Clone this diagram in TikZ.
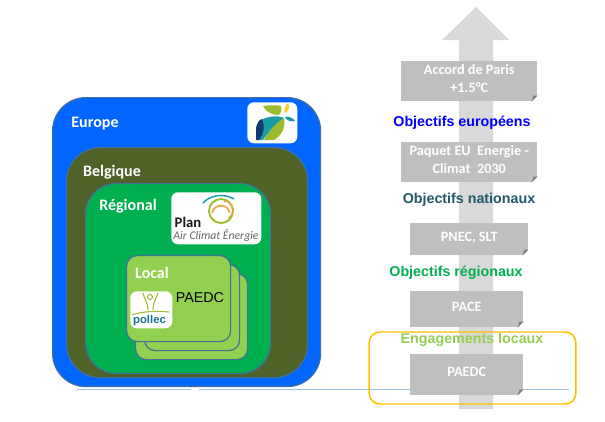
\documentclass[tikz,border=0pt]{standalone}
\usepackage{fontspec}
\setmainfont{Carlito}
\newfontfamily\arialfont{Liberation Sans}
\usepackage{tikz}
\usetikzlibrary{positioning}
\definecolor{euroblue}{HTML}{0066FF}
\definecolor{belgegreen}{HTML}{4F6228}
\definecolor{regiongreen}{HTML}{00B050}
\definecolor{localgreen}{HTML}{92D050}
\definecolor{frameblue}{HTML}{41719C}
\definecolor{shaftgrey}{HTML}{D9D9D9}
\definecolor{notegrey}{HTML}{BFBFBF}
\definecolor{foldgrey}{HTML}{7F7F7F}
\definecolor{natblue}{HTML}{215968}
\definecolor{engorange}{HTML}{FFC000}
\definecolor{groundblue}{HTML}{9DC3E6}
\definecolor{leafnavy}{HTML}{123A6E}
\definecolor{leafteal}{HTML}{1A9CA8}
\definecolor{leafgreen}{HTML}{9DBB2E}
\definecolor{leafyellow}{HTML}{F5D327}
\definecolor{ringorange}{HTML}{E8A33A}
\tikzset{
	level box/.style={
		rectangle,
		draw=frameblue,
		line width=0.9pt,
		anchor=north west,
		inner sep=0pt
	},
	level label/.style={
		font=\bfseries\fontsize{12}{14}\selectfont,
		text=white,
		inner sep=0pt
	},
	logo box/.style={
		rectangle,
		fill=white,
		rounded corners=5pt,
		anchor=north west,
		inner sep=0pt
	},
	note box/.style={
		rectangle,
		fill=notegrey,
		align=center,
		text=white,
		text depth=4pt,
		font=\bfseries\fontsize{10.7}{13}\selectfont,
		anchor=north west,
		inner sep=0pt
	},
	goal label/.style={
		font=\arialfont\bfseries\fontsize{10.7}{12}\selectfont,
		inner sep=0pt
	},
	ground/.style={groundblue, line width=0.6pt}
}
\newcommand{\levelbox}[6]{% name, left, top, width, height, options
	\node (#1) [level box, minimum width=#4*0.75pt, minimum height=#5*0.75pt, #6] at (#2,#3) {};
}
\newcommand{\notebox}[6]{% name, left, top, width, height, text
	\node (#1) [note box, minimum width=#4*0.75pt, minimum height=#5*0.75pt] at (#2,#3) {#6};
	\fill[white] (#1.south east) -- ++(-6,0) -- ++(6,-6) -- cycle;
	\fill[foldgrey] (#1.south east) ++(-6,0) -- ++(2,-6) -- ++(4,0) -- cycle;
}
\begin{document}
\begin{tikzpicture}[x=0.75pt, y=-0.75pt]
	\useasboundingbox (0,0) rectangle (605,421);

	% ground line behind everything
	\coordinate (lineA) at (77,389);
	\coordinate (lineB) at (191,389);
	\coordinate (lineC) at (199,389);
	\coordinate (lineD) at (569,389);
	\draw[ground] (lineA) -- (lineB);
	\draw[ground] (lineC) -- (lineD);

	% nested levels
	\levelbox{europe}{52}{97}{268}{289}{fill=euroblue, rounded corners=25pt}
	\levelbox{belgique}{66}{147}{241}{230}{fill=belgegreen, rounded corners=25pt}
	\levelbox{regional}{85}{183}{185}{190}{fill=regiongreen, rounded corners=23pt}
	\levelbox{localC}{135}{273}{112}{86}{fill=localgreen, rounded corners=8pt}
	\levelbox{localB}{144}{264}{95}{86}{fill=localgreen, rounded corners=8pt}
	\levelbox{localA}{126}{255}{104}{86}{fill=localgreen, rounded corners=8pt}

	\node[level label] (europeT) at (95,124) {Europe};
	\node[level label] (belgiqueT) at (112,172) {Belgique};
	\node[level label] (regionalT) at (128,206) {Régional};
	\node[level label] (localT) at (152,273) {Local};
	\node[inner sep=0pt, font=\arialfont\fontsize{10.7}{12}\selectfont] (paedcT) at (200,298) {PAEDC};

	% european logo
	\node[logo box, minimum width=37.5pt, minimum height=30.75pt] (logoEU) at (247,102) {};
	\fill[leafteal] (259,121) .. controls (268,116) and (277,115) .. (284,118) .. controls (278,123) and (270,130) .. (263,140) -- (258,140) -- cycle;
	\fill[leafnavy] (256,140) -- (256,128) .. controls (257,123) and (259,120) .. (262,119) .. controls (265,126) and (264,134) .. (259,140) -- cycle;
	\fill[leafgreen] (264,140) .. controls (270,129) and (277,122) .. (284,118) .. controls (286,128) and (281,136) .. (274,140) -- cycle;
	\fill[leafgreen] (263,106) .. controls (270,105) and (277,105) .. (281,106) .. controls (282,110) and (281,114) .. (278,115) .. controls (272,115) and (266,112) .. (263,106) -- cycle;
	\fill[leafyellow] (285,113) .. controls (283,109) and (285,106) .. (288,103) .. controls (290,107) and (289,111) .. (285,113) -- cycle;
	\fill[leafteal] (285,117) .. controls (288,116) and (292,117) .. (295,121) .. controls (291,122) and (287,121) .. (285,117) -- cycle;

	% regional logo
	\node[logo box, minimum width=67.5pt, minimum height=39pt] (logoPlan) at (171,192) {};
	\draw[leafgreen, line width=1.4pt] (221,211) circle[radius=12];
	\draw[ringorange, line width=1.2pt] (212,213) arc[start angle=190, end angle=350, radius=9];
	\draw[ringorange, line width=1pt] (224,201) arc[start angle=-90, end angle=60, radius=9];
	\draw[leafteal, line width=1.1pt] (203,203) .. controls (210,195) and (224,193) .. (234,199);
	\node[inner sep=0pt, font=\bfseries\fontsize{11}{12}\selectfont, text=black!90] (planT) at (188,222) {Plan};
	\node[inner sep=0pt, font=\itshape\fontsize{8.8}{10}\selectfont, text=black!60] (planS) at (216,236) {Air Climat Énergie};

	% local logo
	\node[logo box, minimum width=31.5pt, minimum height=27.75pt] (logoPollec) at (130,291) {};
	\draw[leafgreen, line width=0.8pt] (150,297) circle[radius=2.5];
	\draw[leafgreen, line width=0.8pt] (143,293) .. controls (144,299) and (148,302) .. (148,310) (158,293) .. controls (156,299) and (153,302) .. (153,310);
	\draw[leafgreen, line width=0.8pt] (132,315) .. controls (142,311) and (158,311) .. (169,312);
	\node[inner sep=0pt, font=\arialfont\bfseries\fontsize{8.5}{9}\selectfont, text=leafteal!60!leafnavy] (pollecT) at (149.5,321) {pollec};

	% steps on the right
	\fill[shaftgrey] (459,409) -- (459,40) -- (442,40) -- (476,7) -- (509,40) -- (493,40) -- (493,409) -- cycle;
	\notebox{paris}{401}{61}{136}{40}{Accord de Paris\\+1.5°C}
	\notebox{paquet}{401}{142}{136}{40}{Paquet EU~~Energie -\\Climat~~2030}
	\notebox{pnec}{410}{223}{118}{32}{PNEC, SLT}
	\notebox{pace}{410}{291}{113}{36}{PACE}
	\notebox{paedc}{410}{354}{113}{41}{PAEDC}

	\node[goal label, text=blue] (goalEU) at (462,123) {Objectifs européens};
	\node[goal label, text=natblue] (goalNat) at (469,200) {Objectifs nationaux};
	\node[goal label, text=regiongreen] (goalReg) at (456,273) {Objectifs régionaux};
	\node[goal label, text=localgreen] (goalLoc) at (472,340) {Engagements locaux};

	\node[draw=engorange, line width=1.1pt, rounded corners=8pt, minimum width=155pt, minimum height=54pt, inner sep=0pt] (engbox) at (472.5,368) {};
\end{tikzpicture}
\end{document}
